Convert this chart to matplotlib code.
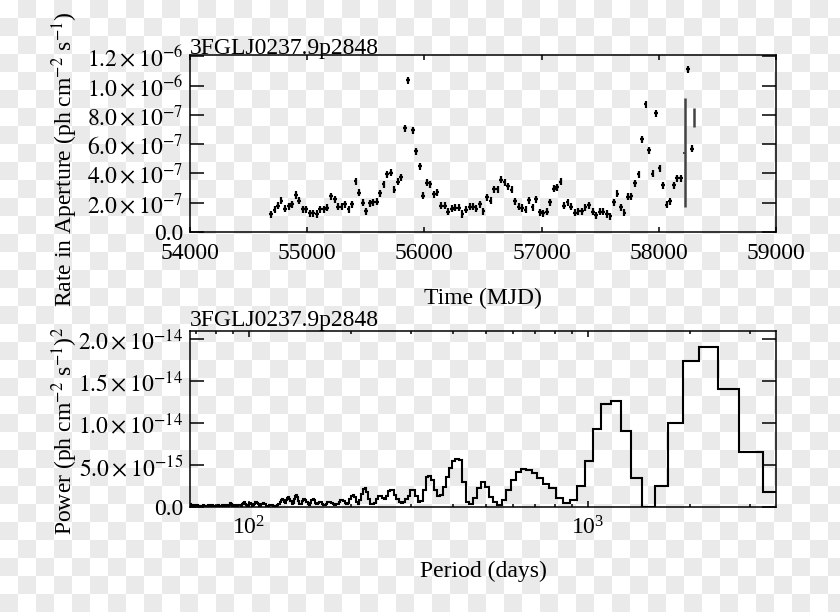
import numpy as np
import matplotlib
matplotlib.use("Agg")
import matplotlib.pyplot as plt
from matplotlib.ticker import FixedLocator, FixedFormatter

plt.rcParams['font.family'] = 'serif'
plt.rcParams['font.serif'] = ['Liberation Serif', 'DejaVu Serif']
plt.rcParams['mathtext.fontset'] = 'stix'

# ---------------- data ----------------
source_name = "3FGLJ0237.9p2848"

# light curve: time (MJD) and rate (units of 1e-7 ph cm^-2 s^-1)
mjd = [54692, 54721, 54752, 54780, 54812, 54843, 54872, 54903, 54932, 54963,
       54991, 55023, 55051, 55083, 55111, 55143, 55171, 55203, 55234, 55262,
       55293, 55322, 55353, 55382, 55413, 55442, 55473, 55502, 55533, 55562,
       55593, 55622, 55652, 55681, 55712, 55744, 55775, 55801, 55832, 55861,
       55900, 55929, 55960, 55991, 56020, 56051, 56083, 56111, 56143, 56174,
       56203, 56233, 56262, 56293, 56325, 56353, 56385, 56413, 56444, 56476,
       56504, 56536, 56564, 56596, 56624, 56656, 56684, 56716, 56744, 56775,
       56803, 56835, 56863, 56895, 56923, 56955, 56986, 57015, 57046, 57074,
       57103, 57131, 57162, 57194, 57222, 57254, 57285, 57314, 57345, 57374,
       57404, 57436, 57464, 57496, 57527, 57556, 57587, 57615, 57647, 57675,
       57707, 57738, 57767, 57798, 57827, 57855, 57887, 57915, 57947, 57974,
       58006, 58037, 58066, 58097, 58128, 58156, 58188, 58251, 58282]
rate = [1.21, 1.52, 1.80, 2.14, 1.59, 1.77, 1.91, 2.53, 2.12, 1.57,
        1.57, 1.27, 1.27, 1.23, 1.55, 1.57, 1.66, 2.43, 2.23, 1.71,
        1.71, 1.89, 1.57, 1.91, 3.48, 2.68, 2.00, 1.43, 1.96, 2.05,
        2.07, 2.64, 3.26, 3.96, 4.05, 2.89, 3.43, 3.73, 7.08, 10.36,
        6.94, 5.51, 4.48, 2.48, 3.37, 3.28, 2.57, 2.73, 1.80, 1.80,
        1.39, 1.59, 1.66, 1.66, 1.23, 1.52, 1.73, 1.73, 1.59, 1.91,
        1.43, 2.37, 2.14, 2.91, 2.91, 3.57, 3.41, 3.12, 2.89, 2.10,
        1.73, 1.64, 1.52, 2.16, 1.69, 2.23, 1.34, 1.27, 1.37, 2.05,
        2.96, 3.07, 3.43, 1.80, 2.05, 1.71, 1.32, 1.43, 1.43, 1.69,
        1.82, 1.37, 1.16, 1.39, 1.39, 1.23, 1.07, 2.05, 2.61, 1.69,
        1.32, 2.41, 2.46, 3.34, 3.96, 6.35, 8.74, 5.60, 3.98, 8.12,
        4.37, 3.21, 1.86, 2.10, 3.21, 3.67, 3.67, 11.11, 5.69]
rate_err = 0.24      # typical 1-sigma error (1e-7)
time_halfbin = 16    # days

# poorly constrained bins (large error bars)
wide_mjd = [58220, 58299]
wide_rate = [5.41, 7.85]
wide_err = [3.72, 0.66]
wide_marker = [True, False]

# periodogram: frequency index k (f = k / T_span), power in units of 1e-15
T_span = 18100.0
k_first = 5
power_k5_19 = [1.82, 6.51, 14.0, 19.08, 17.34, 9.96, 2.5, 0.0, 3.41, 9.0,
               12.62, 12.3, 9.33, 5.52, 2.54]
power_k20_99 = [0.8, 0.52, 1.03, 2.22, 2.75, 3.5, 4.1, 4.45, 4.52, 4.21,
                3.21, 2.02, 0.83, 0.24, 0.63, 1.23, 2.42, 2.94, 2.22, 1.11,
                0.36, 0.63, 3.0, 5.6, 5.67, 5.5, 4.6, 3.6, 2.4, 1.4,
                1.3, 2.0, 3.2, 3.7, 3.6, 2.0, 0.7, 0.6, 1.3, 2.0,
                2.05, 1.3, 0.9, 0.6, 0.5, 0.6, 0.9, 1.4, 2.0, 2.05,
                1.9, 1.3, 0.9, 1.1, 1.25, 1.25, 1.0, 0.5, 0.3, 0.4,
                1.0, 1.8, 2.25, 2.2, 1.6, 0.8, 0.3, 0.6, 1.2, 1.45,
                1.35, 0.9, 0.5, 0.35, 0.5, 0.75, 0.85, 0.8, 0.6, 0.4]
power_k100_179 = [0.3, 0.25, 0.35, 0.5, 0.55, 0.6, 0.55, 0.4, 0.25, 0.2,
                  0.35, 0.6, 0.65, 0.5, 0.3, 0.5, 0.85, 0.9, 0.8, 0.45,
                  0.2, 0.3, 0.6, 0.85, 0.9, 0.9, 0.7, 0.4, 0.3, 0.7,
                  1.2, 1.38, 1.3, 0.9, 0.5, 0.4, 0.7, 1.0, 1.2, 1.1,
                  0.8, 0.45, 0.55, 0.8, 0.9, 0.8, 0.6, 0.4, 0.3, 0.2,
                  0.15, 0.1, 0.1, 0.15, 0.2, 0.25, 0.25, 0.2, 0.15, 0.1,
                  0.1, 0.15, 0.3, 0.4, 0.45, 0.4, 0.3, 0.15, 0.1, 0.15,
                  0.3, 0.5, 0.6, 0.55, 0.4, 0.2, 0.1, 0.15, 0.3, 0.45]
power_k180_270 = [0.45, 0.35, 0.2, 0.1, 0.2, 0.4, 0.6, 0.65, 0.5, 0.3,
                  0.15, 0.1, 0.2, 0.25, 0.2, 0.1, 0.1, 0.15, 0.25, 0.3,
                  0.2, 0.1, 0.1, 0.2, 0.35, 0.45, 0.4, 0.25, 0.1, 0.05,
                  0.1, 0.2, 0.2, 0.1, 0.05, 0.1, 0.15, 0.2, 0.15, 0.1,
                  0.05, 0.1, 0.2, 0.2, 0.1, 0.05, 0.1, 0.15, 0.1, 0.05,
                  0.1, 0.15, 0.2, 0.15, 0.1, 0.05, 0.1, 0.2, 0.2, 0.1,
                  0.05, 0.1, 0.15, 0.1, 0.05, 0.1, 0.2, 0.15, 0.1, 0.1,
                  0.15, 0.2, 0.15, 0.1, 0.05, 0.1, 0.15, 0.2, 0.15, 0.1,
                  0.1, 0.15, 0.2, 0.2, 0.15, 0.1, 0.15, 0.2, 0.25, 0.3, 0.3]

lc_yticks = [0, 2e-7, 4e-7, 6e-7, 8e-7, 1.0e-6, 1.2e-6]
lc_yticklabels = ['0.0', r'$2.0\times10^{-7}$', r'$4.0\times10^{-7}$',
                  r'$6.0\times10^{-7}$', r'$8.0\times10^{-7}$',
                  r'$1.0\times10^{-6}$', r'$1.2\times10^{-6}$']
lc_xticks = [54000, 55000, 56000, 57000, 58000, 59000]
ps_yticks = [0, 5e-15, 1e-14, 1.5e-14, 2e-14]
ps_yticklabels = ['0.0', r'$5.0\times10^{-15}$', r'$1.0\times10^{-14}$',
                  r'$1.5\times10^{-14}$', r'$2.0\times10^{-14}$']

# ---------------- figure ----------------
W, H = 840, 612
fig = plt.figure(figsize=(W / 100, H / 100), dpi=100)
fig.patch.set_facecolor('white')

# transparency checkerboard backdrop
yy, xx = np.mgrid[0:H, 0:W]
board = np.where(((xx // 18 + yy // 18) % 2) == 1, 0.915, 1.0)
fig.figimage(board, cmap='gray', vmin=0, vmax=1, origin='upper', zorder=-10)

FS = 17
spine_lw = 1.1

ax1 = fig.add_axes([190 / W, 1 - 232 / H, 586 / W, 177 / H])
ax2 = fig.add_axes([190 / W, 1 - 507 / H, 586 / W, 176 / H])
for ax in (ax1, ax2):
    ax.set_facecolor('none')
    ax.set_zorder(2)
    for s in ax.spines.values():
        s.set_linewidth(spine_lw)

# --- light curve ---
t = np.array(mjd, dtype=float)
r = np.array(rate) * 1e-7
ax1.errorbar(t, r, xerr=time_halfbin, yerr=rate_err * 1e-7, fmt='none',
             ecolor='black', elinewidth=1.6, capsize=0)
for wm, wr, we, mk in zip(wide_mjd, wide_rate, wide_err, wide_marker):
    ax1.errorbar([wm], [wr * 1e-7], yerr=[we * 1e-7], fmt='none',
                 ecolor='#444444', elinewidth=1.8, capsize=0)
    if mk:
        ax1.errorbar([wm], [wr * 1e-7], xerr=time_halfbin, fmt='none',
                     ecolor='#444444', elinewidth=1.4, capsize=0)

ax1.set_xlim(54000, 59000)
ax1.set_ylim(0, 1.21e-6)
ax1.xaxis.set_major_locator(FixedLocator(lc_xticks))
ax1.yaxis.set_major_locator(FixedLocator(lc_yticks))
ax1.yaxis.set_major_formatter(FixedFormatter(lc_yticklabels))
ax1.tick_params(axis='x', which='major', direction='in', top=True,
                length=3.6, width=spine_lw, labelsize=FS, pad=8)
ax1.tick_params(axis='y', which='major', direction='in', right=True,
                length=10, width=spine_lw, labelsize=FS, pad=5)
ax1.set_xlabel('Time (MJD)', fontsize=FS, labelpad=17)
ax1.set_ylabel('Rate in Aperture (ph cm$^{-2}$ s$^{-1}$)', fontsize=FS)
ax1.yaxis.set_label_coords(-0.188, 0.41)
ax1.set_title(source_name, loc='left', fontsize=FS, pad=1)

# --- power spectrum ---
power = np.array(power_k5_19 + power_k20_99 + power_k100_179 + power_k180_270) * 1e-15
k = np.arange(k_first, k_first + len(power))
k_r = k[::-1]
p_r = power[::-1]
edges = T_span / np.append(k_r + 0.5, k_r[-1] - 0.5)
ax2.stairs(p_r, edges, baseline=None, color='black', linewidth=1.5)

ax2.set_xscale('log')
ax2.set_xlim(67, 3590)
ax2.set_ylim(0, 2.095e-14)
ax2.yaxis.set_major_locator(FixedLocator(ps_yticks))
ax2.yaxis.set_major_formatter(FixedFormatter(ps_yticklabels))
ax2.tick_params(axis='x', which='major', direction='in', top=True,
                length=4, width=spine_lw, labelsize=FS, pad=7)
ax2.tick_params(axis='x', which='minor', direction='in', top=True,
                length=2.5, width=spine_lw)
ax2.tick_params(axis='y', which='major', direction='in', right=True,
                length=10, width=spine_lw, labelsize=FS, pad=5)
ax2.set_xlabel('Period (days)', fontsize=FS, labelpad=15)
ax2.set_ylabel('Power (ph cm$^{-2}$ s$^{-1}$)$^{2}$', fontsize=FS)
ax2.yaxis.set_label_coords(-0.188, 0.43)
ax2.set_title(source_name, loc='left', fontsize=FS, pad=1)

fig.savefig('out.png', dpi=100, facecolor='white')
